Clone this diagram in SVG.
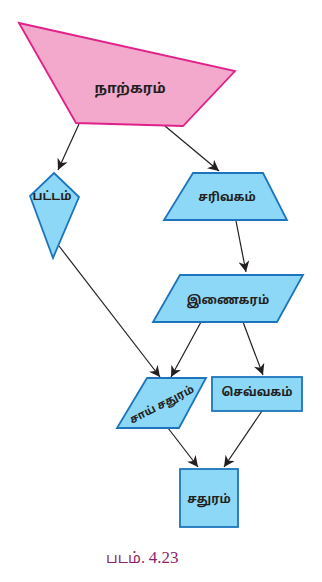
<svg xmlns="http://www.w3.org/2000/svg" width="322" height="582" viewBox="0 0 322 582">
<style>
.pink{fill:#F3A9CB;stroke:#E0218A;stroke-width:1.8;stroke-linejoin:miter}
.blue{fill:#8DD7F7;stroke:#1C75BC;stroke-width:1.8}
.lbl{font-family:"Noto Sans Tamil","Noto Sans","DejaVu Sans",sans-serif;font-weight:bold;fill:#231F20;text-anchor:middle;dominant-baseline:central}
.edge{stroke:#231F20;stroke-width:1.2;fill:none;marker-end:url(#ah)}
.cap{font-family:"Noto Sans Tamil","Liberation Serif",serif;fill:#8E1F6C;font-size:15px}
.num{font-family:"Liberation Serif",serif;font-size:17px}
</style>
<defs>
<marker id="ah" viewBox="0 0 10 10" refX="10" refY="5" markerWidth="11" markerHeight="11" markerUnits="userSpaceOnUse" orient="auto">
<path d="M0,0 L10,5 L0,10 L3,5 Z" fill="#231F20"/>
</marker>
</defs>
<rect width="322" height="582" fill="#FFFFFF"/>
<g id="connectors">
<path class="edge" d="M79,124 L58,170"/>
<path class="edge" d="M165,126 L219,171"/>
<path class="edge" d="M236,221 L246,272"/>
<path class="edge" d="M59,246 L160,377"/>
<path class="edge" d="M201,322 L171,377"/>
<path class="edge" d="M243,322 L263,375"/>
<path class="edge" d="M168,428 L198,467"/>
<path class="edge" d="M262,411 L224,467"/>
</g>
<g id="narkaram">
<polygon class="pink" points="19,23 235,71 183,126 76,123"/>
<text class="lbl" x="130" y="89" font-size="14">நாற்கரம்</text>
</g>
<g id="pattam">
<polygon class="blue" points="54,173 79,197 53,258 30,196"/>
<text class="lbl" x="52" y="197" font-size="12">பட்டம்</text>
</g>
<g id="sarivagam">
<polygon class="blue" points="193,173 263,173 287,220 164,220"/>
<text class="lbl" x="227" y="198" font-size="12">சரிவகம்</text>
</g>
<g id="inaikaram">
<polygon class="blue" points="180,275 303,275 277,322 153,322"/>
<text class="lbl" x="228" y="301" font-size="12">இணைகரம்</text>
</g>
<g id="saaisathuram">
<polygon class="blue" points="147,378 206,378 179,428 117,428"/>
<text class="lbl" x="162" y="405" font-size="11" transform="rotate(-27 162 405)">சாய் சதுரம்</text>
</g>
<g id="sevvagam">
<rect class="blue" x="212" y="377" width="90" height="34"/>
<text class="lbl" x="257" y="393" font-size="12">செவ்வகம்</text>
</g>
<g id="sathuram">
<rect class="blue" x="180" y="469" width="58" height="58"/>
<text class="lbl" x="209" y="500" font-size="12">சதுரம்</text>
</g>
<text class="cap" x="106" y="563">படம். <tspan class="num">4.23</tspan></text>
</svg>
